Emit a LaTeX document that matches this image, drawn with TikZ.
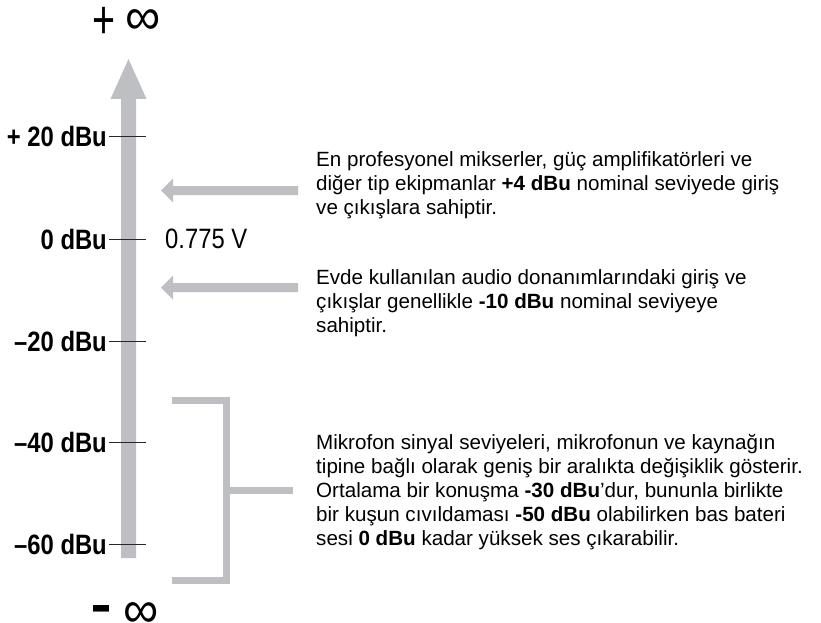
\documentclass[tikz,border=0pt]{standalone}
\usepackage{fontspec}
\usepackage{graphicx}
\setmainfont{Liberation Sans}
\newfontfamily\condfont[FakeStretch=0.85]{Liberation Sans}
\definecolor{bargrey}{RGB}{190,191,195}
\definecolor{tickgrey}{RGB}{40,40,40}
\newcommand{\flatbox}[1]{\raisebox{0pt}[0pt][0pt]{#1}}
\begin{document}
\begin{tikzpicture}[x=1pt,y=-1pt,
  lvl/.style={font=\condfont\bfseries\fontsize{28}{30}\selectfont, anchor=east, inner sep=0pt},
  tickline/.style={draw=tickgrey, line width=1pt},
  note/.style={font=\fontsize{20.6}{24}\selectfont, align=left, anchor=base west, inner sep=0pt},
  infsym/.style={inner sep=0pt, anchor=base, font=\fontsize{52}{52}\selectfont},
  signsym/.style={inner sep=0pt, anchor=base},
  bracket/.style={draw=bargrey, line width=7pt}]
\useasboundingbox (0,0) rectangle (821,623);
% main arrow
\fill[bargrey] (121,558) -- (121,99) -- (110.5,99) -- (128.5,59) -- (146.5,99) -- (136,99) -- (136,558) -- cycle;
\node[signsym, font=\fontsize{54}{54}\selectfont] (plus) at (104.5,39) {\flatbox{\scalebox{0.73}[1]{+}}};
\node[infsym] (pinf) at (143,34.5) {\flatbox{\scalebox{0.95}[1]{∞}}};
\node[signsym, font=\bfseries\fontsize{30}{30}\selectfont] (minus) at (102,626) {\flatbox{\scalebox{1.08}[2.2]{–}}};
\node[infsym] (minf) at (141.5,627) {\flatbox{\scalebox{0.95}[1]{∞}}};
% ticks
\foreach \n/\y/\t in {p20/136/{+ 20 dBu}, z0/239/{0 dBu}, m20/341/{–20 dBu}, m40/442/{–40 dBu}, m60/544/{–60 dBu}}{
  \coordinate (t\n a) at (109,\y);
  \coordinate (t\n b) at (146,\y);
  \draw[tickline] (t\n a) -- (t\n b);
  \node[lvl] (l\n) at (107,\y) {\t};
}
\node[font=\condfont\fontsize{28}{30}\selectfont, anchor=west, inner sep=0pt] (volt) at (165,239) {0.775 V};
% small arrows
\foreach \n/\y in {a1/190.5, a2/287.5}{
  \fill[bargrey] (298,\y-4.5) -- (173,\y-4.5) -- (173,\y-12) -- (161,\y) -- (173,\y+12) -- (173,\y+4.5) -- (298,\y+4.5) -- cycle;
}
% bracket
\coordinate (bt) at (172,400.5);
\coordinate (bb) at (172,580.5);
\coordinate (bm) at (226.5,490);
\coordinate (bs) at (293,490);
\draw[bracket] (bt) -- (226.5,400.5) -- (226.5,580.5) -- (bb);
\draw[bracket] (bm) -- (bs);
% notes (base anchor = last line)
\node[note] (n1) at (316,214) {En profesyonel mikserler, güç amplifikatörleri ve\\diğer tip ekipmanlar \textbf{+4 dBu} nominal seviyede giriş\\ve çıkışlara sahiptir.};
\node[note] (n2) at (316,332) {Evde kullanılan audio donanımlarındaki giriş ve\\çıkışlar genellikle \textbf{-10 dBu} nominal seviyeye\\sahiptir.};
\node[note] (n3) at (316,545) {Mikrofon sinyal seviyeleri, mikrofonun ve kaynağın\\tipine bağlı olarak geniş bir aralıkta değişiklik gösterir.\\Ortalama bir konuşma \textbf{-30 dBu}'dur, bununla birlikte\\bir kuşun cıvıldaması \textbf{-50 dBu} olabilirken bas bateri\\sesi \textbf{0 dBu} kadar yüksek ses çıkarabilir.};
\end{tikzpicture}
\end{document}
